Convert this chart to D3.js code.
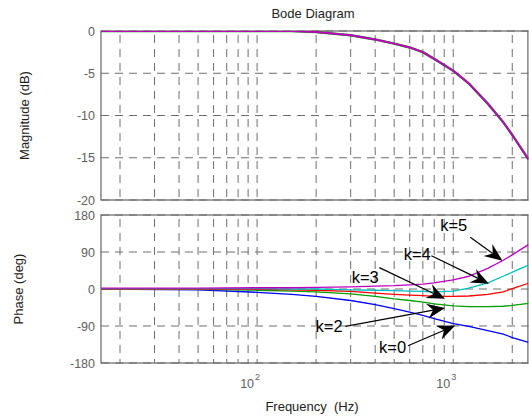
<!DOCTYPE html>
<html>
<head>
<meta charset="utf-8"/>
<title>Bode Diagram</title>
<script src="https://cdnjs.cloudflare.com/ajax/libs/d3/7.8.5/d3.min.js"></script>
<style>
  body { margin: 0; background: #fff; }
  text { font-family: "Liberation Sans", Arial, sans-serif; }
  .grid { stroke: #6e6e6e; stroke-width: 1; stroke-dasharray: 8,6; fill: none; }
  .frame { stroke: #666; stroke-width: 1.2; fill: none; }
  .tick { fill: #606060; font-size: 12.5px; }
</style>
</head>
<body>
<script>

var width = 529;
var height = 420;

// frequency points (Hz)
var freq    = [16, 50, 100, 150, 200, 300, 400, 500, 600, 700, 800, 1000, 1200, 1500, 1800, 2000, 2420];
// magnitude is the same for every k
var magDb   = [0, 0, 0, -0.02, -0.12, -0.5, -1.0, -1.5, -1.95, -2.5, -3.3, -4.7, -6.2, -8.6, -10.8, -12.3, -15.2];
// phase (deg) for each k
var phaseK0 = [0, -2, -8, -13, -18, -28, -38, -48, -56, -64, -72, -84, -91, -101, -110, -118, -130];
var phaseK2 = [0, -1, -3, -5, -7, -12, -18, -24, -28, -32, -36, -41, -43, -43, -42, -40, -35];
var phaseK3 = [0, 0, -1, -2, -3, -6, -10, -13, -15, -16, -18, -18, -17, -13, -7, 1, 14];
var phaseK4 = [1, 1, 1, 0, 0, -2, -3, -4, -5, -6, -7, -5, 2, 15, 31, 41, 58];
var phaseK5 = [2, 2, 3, 3, 4, 5, 7, 8, 10, 12, 15, 22, 31, 50, 70, 83, 108];

var magTicks   = [0, -5, -10, -15, -20];
var phaseTicks = [180, 90, 0, -90, -180];
var decades    = [100, 1000];
var gridFreq   = [20, 30, 40, 50, 60, 70, 80, 90, 100, 200, 300, 400, 500, 600, 700, 800, 900, 1000, 2000];

// annotation labels: text position and arrow tail/tip, in (Hz, deg)
var notes = [
  { label: "k=5", tx: 1006, tp: 156, fx: 1222, fp: 126, hx: 1782, hp: 69 },
  { label: "k=4", tx: 655,  tp: 85,  fx: 774,  fp: 81,  hx: 1521, hp: 13 },
  { label: "k=3", tx: 356,  tp: 29,  fx: 420,  fp: 52,  hx: 908,  hp: -24 },
  { label: "k=2", tx: 233,  tp: -91, fx: 282,  fp: -91, hx: 908,  hp: -46 },
  { label: "k=0", tx: 491,  tp: -141, fx: 588, fp: -138, hx: 1024, hp: -89 }
];

var series = [
  { name: "k=0", color: "#0000ff", phase: phaseK0 },
  { name: "k=2", color: "#00a000", phase: phaseK2 },
  { name: "k=3", color: "#ff0000", phase: phaseK3 },
  { name: "k=4", color: "#00bfbf", phase: phaseK4 },
  { name: "k=5", color: "#bf00bf", phase: phaseK5 }
];

var left = 101, right = 528.5;
var magTop = 31, magBottom = 200;
var phTop = 215, phBottom = 363;

var svg = d3.select("body").append("svg")
  .attr("width", width)
  .attr("height", height);

var x = d3.scaleLog().domain([16, 2420]).range([left, right]);
var yMag = d3.scaleLinear().domain([-20, 0]).range([magBottom, magTop]);
var yPh = d3.scaleLinear().domain([-180, 180]).range([phBottom, phTop]);

function panel(id, y, ticks, top, bottom) {
  var g = svg.append("g");

  svg.append("clipPath").attr("id", id)
    .append("rect")
    .attr("x", left).attr("y", top)
    .attr("width", right - left).attr("height", bottom - top);

  g.selectAll(".vgrid").data(gridFreq).enter().append("line")
    .attr("class", "grid")
    .attr("x1", function (d) { return x(d); })
    .attr("x2", function (d) { return x(d); })
    .attr("y1", top + 4).attr("y2", bottom);

  g.selectAll(".hgrid").data(ticks).enter().append("line")
    .attr("class", "grid")
    .attr("x1", left).attr("x2", right)
    .attr("y1", function (d) { return y(d); })
    .attr("y2", function (d) { return y(d); });

  g.selectAll(".ylab").data(ticks).enter().append("text")
    .attr("class", "tick")
    .attr("x", 95)
    .attr("y", function (d) { return y(d); })
    .attr("dy", "0.36em")
    .attr("text-anchor", "end")
    .text(function (d) { return d; });

  g.append("rect")
    .attr("class", "frame")
    .attr("x", left).attr("y", top)
    .attr("width", right - left - 0.6).attr("height", bottom - top);

  return g;
}

var gMag = panel("clipMag", yMag, magTicks, magTop, magBottom);
var gPh = panel("clipPh", yPh, phaseTicks, phTop, phBottom);

// magnitude: same curve for all k, green under magenta
var magLine = d3.line()
  .x(function (d, i) { return x(freq[i]); })
  .y(function (d) { return yMag(d); });

[["#00a000", 2.4], ["#bf00bf", 1.9]].forEach(function (c) {
  gMag.append("path")
    .datum(magDb)
    .attr("clip-path", "url(#clipMag)")
    .attr("fill", "none")
    .attr("stroke", c[0])
    .attr("stroke-width", c[1])
    .attr("d", magLine);
});

var phLine = d3.line()
  .x(function (d, i) { return x(freq[i]); })
  .y(function (d) { return yPh(d); });

gPh.selectAll(".phase").data(series).enter().append("path")
  .attr("clip-path", "url(#clipPh)")
  .attr("fill", "none")
  .attr("stroke", function (d) { return d.color; })
  .attr("stroke-width", 1.3)
  .attr("d", function (d) { return phLine(d.phase); });

// arrows with notched heads
notes.forEach(function (n) {
  var x0 = x(n.fx), y0 = yPh(n.fp);
  var x1 = x(n.hx), y1 = yPh(n.hp);
  var dx = x1 - x0, dy = y1 - y0;
  var len = Math.sqrt(dx * dx + dy * dy);
  var ux = dx / len, uy = dy / len;
  var nx = -uy, ny = ux;
  var L = 18, W = 7.5, notch = 6;
  var bx = x1 - L * ux, by = y1 - L * uy;
  var mx = x1 - (L - notch) * ux, my = y1 - (L - notch) * uy;

  svg.append("line")
    .attr("x1", x0).attr("y1", y0)
    .attr("x2", mx).attr("y2", my)
    .attr("stroke", "#000")
    .attr("stroke-width", 1.2);

  svg.append("path")
    .attr("d", "M" + x1 + "," + y1 +
      "L" + (bx + W * nx) + "," + (by + W * ny) +
      "L" + mx + "," + my +
      "L" + (bx - W * nx) + "," + (by - W * ny) + "Z")
    .attr("fill", "#000");

  svg.append("text")
    .attr("x", x(n.tx))
    .attr("y", yPh(n.tp))
    .attr("dy", "0.36em")
    .attr("text-anchor", "middle")
    .attr("font-size", "16.5px")
    .attr("fill", "#000")
    .text(n.label);
});

// decade labels 10^2, 10^3
var xl = svg.selectAll(".xlab").data(decades).enter().append("text")
  .attr("class", "tick")
  .attr("x", function (d) { return x(d) + 3; })
  .attr("y", 388)
  .attr("text-anchor", "end");
xl.append("tspan").text("10");
xl.append("tspan")
  .attr("font-size", "9px")
  .attr("dy", "-8")
  .attr("dx", "1")
  .text(function (d) { return Math.round(Math.log10(d)); });

svg.append("text")
  .attr("x", 313).attr("y", 18)
  .attr("text-anchor", "middle")
  .attr("font-size", "13px")
  .attr("fill", "#222")
  .text("Bode Diagram");

svg.append("text")
  .attr("x", 312).attr("y", 411)
  .attr("text-anchor", "middle")
  .attr("font-size", "13px")
  .attr("fill", "#222")
  .attr("xml:space", "preserve")
  .style("white-space", "pre")
  .text("Frequency  (Hz)");

svg.append("text")
  .attr("transform", "translate(29," + ((magTop + magBottom) / 2) + ") rotate(-90)")
  .attr("text-anchor", "middle")
  .attr("font-size", "13px")
  .attr("fill", "#222")
  .text("Magnitude (dB)");

svg.append("text")
  .attr("transform", "translate(23," + ((phTop + phBottom) / 2) + ") rotate(-90)")
  .attr("text-anchor", "middle")
  .attr("font-size", "13px")
  .attr("fill", "#222")
  .text("Phase (deg)");

</script>
</body>
</html>
